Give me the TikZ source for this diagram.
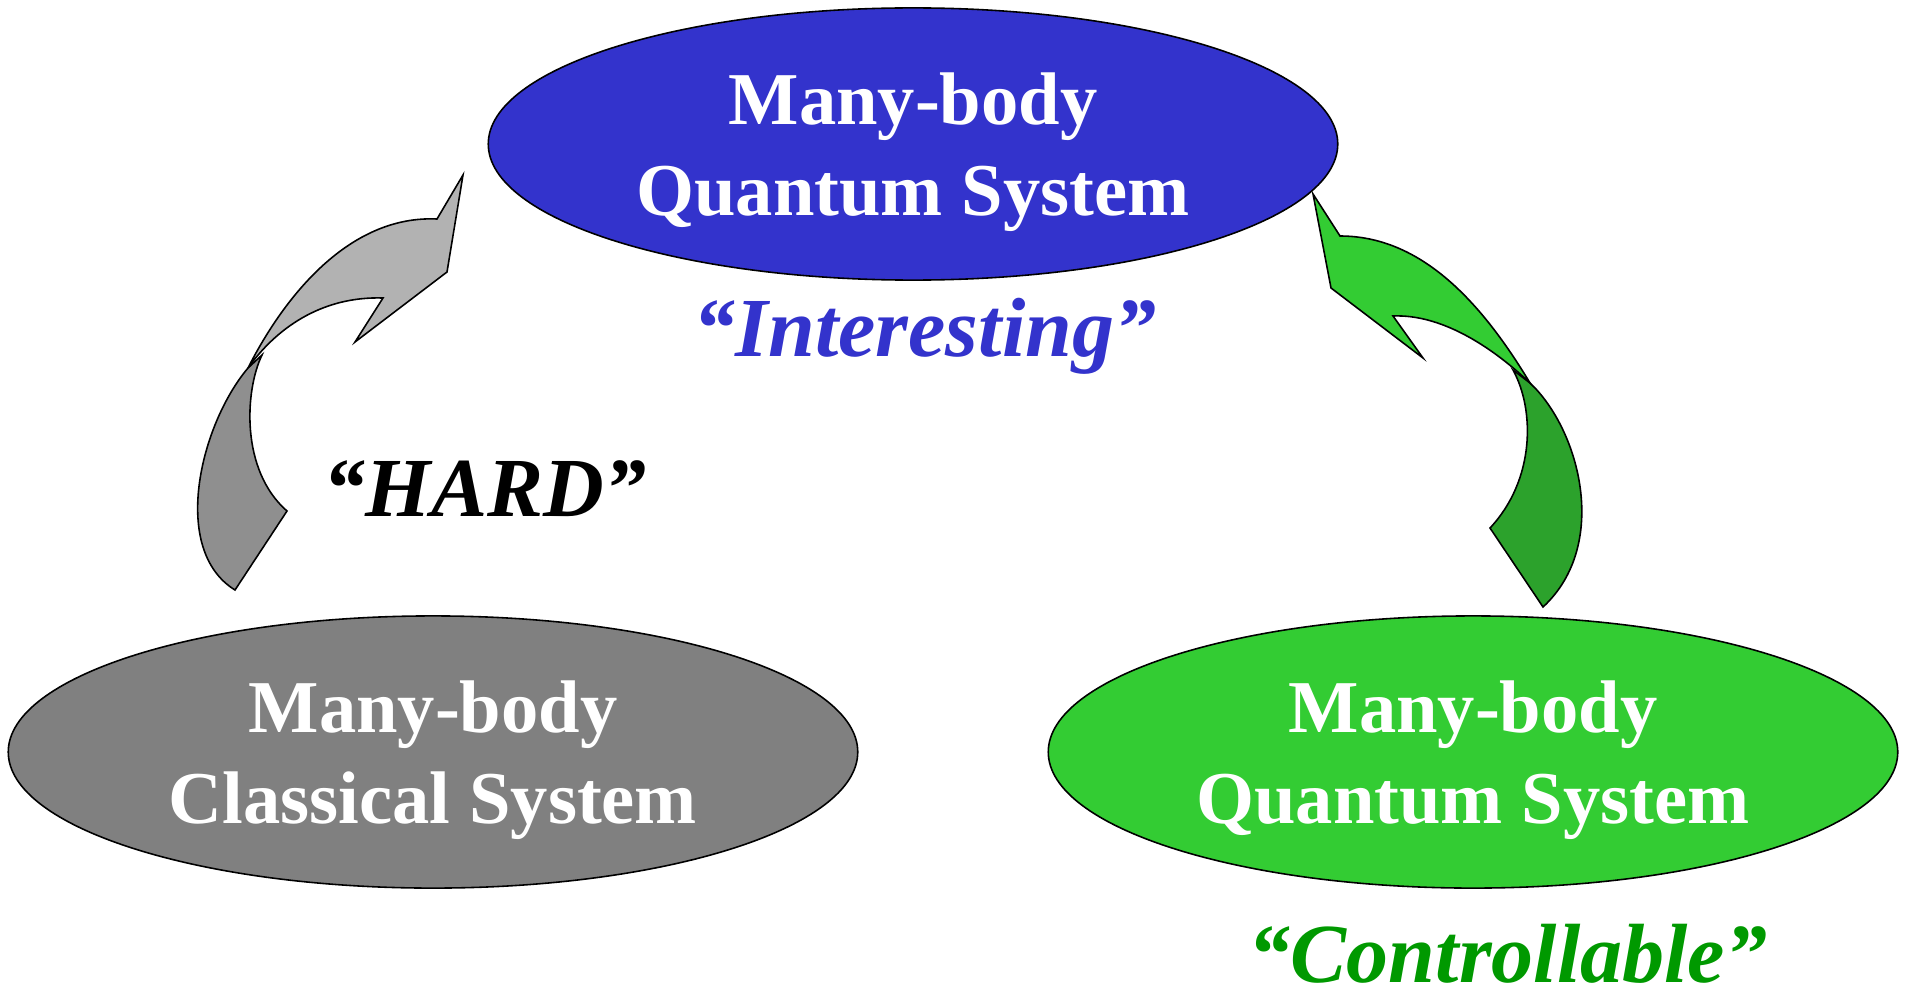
\documentclass[tikz,border=0pt]{standalone}
\usepackage{fontspec}
\setmainfont{Liberation Serif}
\usetikzlibrary{shapes.geometric}
\definecolor{qblue}{RGB}{51,51,204}
\definecolor{qgreen}{RGB}{51,204,51}
\definecolor{qgreendark}{RGB}{44,162,44}
\definecolor{txtgreen}{RGB}{0,153,0}
\definecolor{cgray}{RGB}{128,128,128}
\definecolor{agraylight}{RGB}{178,178,178}
\definecolor{agraydark}{RGB}{143,143,143}
\begin{document}
\begin{tikzpicture}[x=0.01cm,y=-0.01cm,
	sysbox/.style={ellipse,draw=black,line width=0.45pt,minimum width=8.49cm,minimum height=2.72cm,inner sep=0pt,
		align=center,text=white,font=\fontsize{21.2}{25.8}\selectfont\bfseries,text depth=0pt},
	quote/.style={anchor=base,inner sep=0pt,font=\fontsize{23.9}{28}\selectfont\bfseries\itshape},
	arrowpart/.style={draw=black,line width=0.45pt,line join=miter}]
		\useasboundingbox (0,0) rectangle (1910,994);
		% systems
		\node[sysbox,fill=qblue] (qsys) at (913,144) {Many-body\\Quantum System};
		\node[sysbox,fill=cgray] (csys) at (433,752) {Many-body\\Classical System};
		\node[sysbox,fill=qgreen] (qsim) at (1473,752) {Many-body\\Quantum System};
		
		% labels
		\node[quote,text=qblue] (interesting) at (925,356) {“Interesting”};
		\node[quote,text=black] (hard) at (485,516) {“HARD”};
		\node[quote,text=txtgreen] (controllable) at (1508,982) {“Controllable”};
		
		% left arrow (classical -> quantum)
		\filldraw[arrowpart,fill=agraydark] (235,590) .. controls (170,550) and (200,425) .. (248,368)
			-- (262,355) .. controls (245,390) and (240,470) .. (287,511) -- cycle;
		\filldraw[arrowpart,fill=agraylight] (248,368) .. controls (285,295) and (350,215) .. (437,219)
			-- (463,175) -- (447,272) -- (355,342) -- (383,298)
			.. controls (320,296) and (275,330) .. (248,368) -- cycle;
		
		% right arrow (simulator -> quantum)
		\filldraw[arrowpart,fill=qgreendark] (1530,383) .. controls (1580,430) and (1610,545) .. (1543,607)
			-- (1490,528) .. controls (1535,480) and (1535,410) .. (1513,370) -- cycle;
		\filldraw[arrowpart,fill=qgreen] (1530,383) .. controls (1480,300) and (1420,236) .. (1340,236)
			-- (1313,194) -- (1331,288) -- (1423,358) -- (1393,316)
			.. controls (1440,314) and (1490,345) .. (1530,383) -- cycle;
		\end{tikzpicture}
\end{document}
